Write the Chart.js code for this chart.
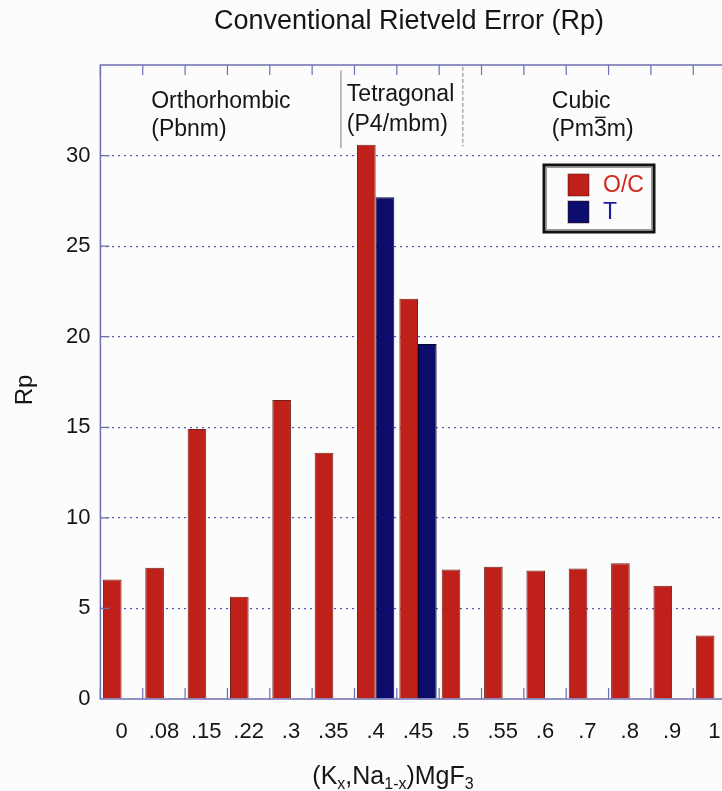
<!DOCTYPE html>
<html>
<head>
<meta charset="utf-8">
<script src="https://cdn.jsdelivr.net/npm/chart.js@4.4.1/dist/chart.umd.min.js"></script>
<style>
html, body { margin: 0; padding: 0; overflow: hidden; background: #fcfcfc; }
#wrap { width: 760px; height: 791px; }
</style>
</head>
<body>
<div id="wrap"><canvas id="rpChart"></canvas></div>
<script>
// data
const categories = ['0', '.08', '.15', '.22', '.3', '.35', '.4', '.45', '.5', '.55', '.6', '.7', '.8', '.9', '1'];
const rpOC = [6.6, 7.25, 14.9, 5.65, 16.5, 13.6, 30.6, 22.1, 7.15, 7.3, 7.1, 7.2, 7.5, 6.25, 3.5];
const rpT  = [null, null, null, null, null, null, 27.7, 19.6, null, null, null, null, null, null, null];
const seriesNames = ['O/C', 'T'];
const phaseNames = ['Orthorhombic', 'Tetragonal', 'Cubic'];
const phaseGroups = ['(Pbnm)', '(P4/mbm)', '(Pm3m)'];
const yMax = 35;
const yStep = 5;

const FONT = '"Liberation Sans", Arial, Helvetica, sans-serif';
const frameColor = '#6e6eb2';
const redFill = '#c0201a', blueFill = '#0c0c6c';

// draws the frame, inner ticks, phase notes, legend and titles
const decor = {
    id: 'decor',
    beforeDraw(chart) {
        const c = chart.ctx;
        c.save();
        c.fillStyle = '#fcfcfc';
        c.fillRect(0, 0, chart.width, chart.height);
        c.restore();
    },
    afterDraw(chart) {
        const c = chart.ctx, a = chart.chartArea;
        const xs = chart.scales.x, ys = chart.scales.y;
        c.save();

        // frame
        c.strokeStyle = frameColor;
        c.lineWidth = 1.5;
        c.strokeRect(a.left, a.top, a.right - a.left, a.bottom - a.top);

        // ticks pointing inward
        c.lineWidth = 1.2;
        c.beginPath();
        for (let i = 0; i <= categories.length; i++) {
            const px = xs.getPixelForValue(i - 0.5);
            c.moveTo(px, a.bottom); c.lineTo(px, a.bottom - 11);
            c.moveTo(px, a.top); c.lineTo(px, a.top + 10);
        }
        ys.ticks.forEach(t => {
            if (t.value > 0 && t.value < yMax) {
                const py = ys.getPixelForValue(t.value);
                c.moveTo(a.left, py); c.lineTo(a.left + 9, py);
            }
        });
        c.stroke();

        // phase dividers
        c.strokeStyle = '#808080';
        c.lineWidth = 1;
        c.beginPath();
        c.moveTo(xs.getPixelForValue(5.18), ys.getPixelForValue(34.7));
        c.lineTo(xs.getPixelForValue(5.18), ys.getPixelForValue(30.4));
        c.stroke();
        c.setLineDash([4, 2]);
        c.beginPath();
        c.moveTo(xs.getPixelForValue(8.06), ys.getPixelForValue(34.9));
        c.lineTo(xs.getPixelForValue(8.06), ys.getPixelForValue(30.5));
        c.stroke();
        c.setLineDash([]);

        // phase labels
        const spots = [[0.7, 33.0, 31.45], [5.32, 33.37, 31.7], [10.16, 33.0, 31.45]];
        c.font = '23px ' + FONT;
        c.fillStyle = '#151515';
        c.textAlign = 'left';
        c.textBaseline = 'middle';
        phaseNames.forEach((n, i) => {
            const px = xs.getPixelForValue(spots[i][0]);
            c.fillText(n, px, ys.getPixelForValue(spots[i][1]));
            const gy = ys.getPixelForValue(spots[i][2]);
            c.fillText(phaseGroups[i], px, gy);
            if (i === 2) {
                // bar over the 3 in Pm3m
                const ox = px + c.measureText('(Pm').width;
                const w = c.measureText('3').width;
                c.strokeStyle = '#151515';
                c.lineWidth = 1.3;
                c.beginPath();
                c.moveTo(ox + 1, gy - 12); c.lineTo(ox + w - 1, gy - 12);
                c.stroke();
            }
        });

        // legend box
        c.strokeStyle = '#111';
        c.lineWidth = 3;
        c.strokeRect(544, 165, 110, 67);
        c.strokeStyle = '#999';
        c.lineWidth = 1;
        c.strokeRect(546.5, 167.5, 105, 62);
        const legColors = [redFill, blueFill];
        const legText = ['#d0281c', '#1c1c9c'];
        c.font = '23px ' + FONT;
        chart.data.datasets.forEach((ds, i) => {
            const top = 174 + i * 27;
            c.fillStyle = legColors[i];
            c.fillRect(568, top, 21, 22);
            c.strokeStyle = 'rgba(60,20,20,0.6)';
            c.lineWidth = 0.8;
            c.strokeRect(568, top, 21, 22);
            c.fillStyle = legText[i];
            c.fillText(ds.label, 603, top + 12);
        });

        // chart title
        c.fillStyle = '#151515';
        c.textAlign = 'center';
        c.font = '27px ' + FONT;
        c.fillText('Conventional Rietveld Error (Rp)', 409, 22);

        // y title
        c.save();
        c.translate(25, 390);
        c.rotate(-Math.PI / 2);
        c.font = '24px ' + FONT;
        c.fillText('Rp', 0, 0);
        c.restore();

        // x title with subscripts
        const parts = [['(K', 0], ['x', 1], [',Na', 0], ['1-x', 1], [')MgF', 0], ['3', 1]];
        const mainF = '25px ' + FONT, subF = '16px ' + FONT;
        let total = 0;
        parts.forEach(p => { c.font = p[1] ? subF : mainF; total += c.measureText(p[0]).width; });
        let x = 393 - total / 2;
        c.textAlign = 'left';
        c.textBaseline = 'alphabetic';
        parts.forEach(p => {
            c.font = p[1] ? subF : mainF;
            c.fillText(p[0], x, p[1] ? 789 : 784);
            x += c.measureText(p[0]).width;
        });

        c.restore();
    }
};

const chart = new Chart(document.getElementById('rpChart'), {
    type: 'bar',
    data: {
        labels: categories,
        datasets: [
            { label: seriesNames[0], data: rpOC, backgroundColor: redFill, borderColor: '#6e2418', borderWidth: 1 },
            { label: seriesNames[1], data: rpT, backgroundColor: blueFill, borderColor: '#05052e', borderWidth: 1 }
        ]
    },
    options: {
        responsive: true,
        maintainAspectRatio: false,
        animation: false,
        datasets: { bar: { categoryPercentage: 0.88, barPercentage: 1 } },
        layout: { padding: { top: 65, right: 24.4, left: 0, bottom: 0 } },
        plugins: { legend: { display: false }, title: { display: false }, tooltip: { enabled: false } },
        scales: {
            x: {
                afterFit: s => { s.height = 92; },
                grid: { display: false, drawTicks: false },
                border: { display: false },
                ticks: { color: '#151515', font: { family: FONT, size: 22 }, padding: 20, maxRotation: 0, autoSkip: false }
            },
            y: {
                min: 0,
                max: yMax,
                afterFit: s => { s.width = 100.4; },
                grid: {
                    drawTicks: false,
                    color: ctx => (ctx.tick.value > 0 && ctx.tick.value < yMax) ? '#5656b8' : 'rgba(0,0,0,0)',
                    lineWidth: 1.2
                },
                border: { display: false, dash: [2, 4] },
                ticks: {
                    stepSize: yStep,
                    color: '#151515',
                    font: { family: FONT, size: 22 },
                    padding: 10,
                    callback: v => v === yMax ? '' : v
                }
            }
        }
    },
    plugins: [decor]
});
</script>
</body>
</html>
